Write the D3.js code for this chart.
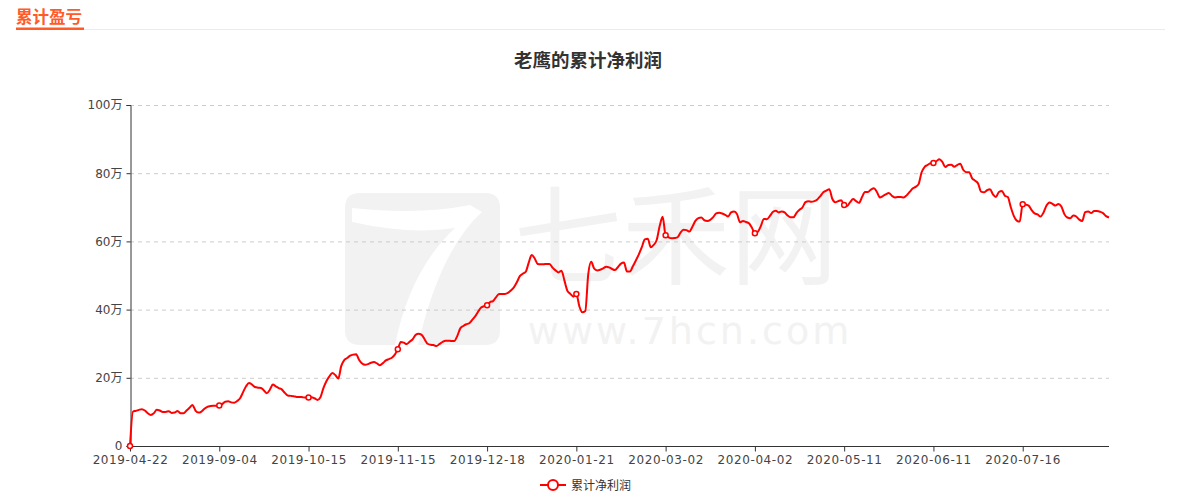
<!DOCTYPE html>
<html><head><meta charset="utf-8">
<script src="https://cdn.jsdelivr.net/npm/d3@7"></script>
<style>
body{margin:0;background:#fff;}
svg text{font-family:"DejaVu Sans","Noto Sans CJK SC",sans-serif;}
</style></head>
<body><svg id="c" width="1180" height="500"></svg>
<script>
const tickLabels = ["2019-04-22","2019-09-04","2019-10-15","2019-11-15","2019-12-18","2020-01-21","2020-03-02","2020-04-02","2020-05-11","2020-06-11","2020-07-16"];
const tickIndices = [0,30,60,90,120,150,180,210,240,270,300];
const yTicks = [0,20,40,60,80,100];
// 累计净利润 (万)
const profit = [
0,10.1,10.3,10.6,10.8,10.4,9.6,9.1,9.6,10.6,
10.4,10.0,10.0,10.2,9.7,9.8,10.3,9.6,9.6,10.4,
11.2,12.0,10.4,9.8,10.1,10.9,11.5,11.7,11.8,11.8,
11.9,12.3,13.0,13.1,12.8,12.7,13.2,14.0,15.8,17.5,
18.5,18.0,17.3,17.1,17.0,16.3,15.5,16.5,18.0,17.5,
17.0,16.6,15.6,14.8,14.7,14.6,14.4,14.4,14.3,14.2,
14.2,14.3,14.0,13.5,14.3,17.0,19.0,20.4,21.4,20.8,
19.8,23.5,25.2,25.8,26.5,26.8,26.9,25.2,24.2,23.8,
24.0,24.4,24.6,24.2,23.7,24.3,25.1,25.5,25.9,26.8,
28.4,30.5,30.3,29.9,30.6,31.3,32.6,32.9,32.6,31.3,
30.0,29.7,29.6,29.3,29.9,30.5,30.9,30.9,30.8,30.8,
32.3,34.5,35.2,35.7,36.0,37.0,38.0,39.4,40.6,41.0,
41.3,42.2,42.5,43.6,44.6,44.6,44.6,44.9,45.6,46.5,
48.0,49.8,50.5,51.1,53.8,56.0,55.0,53.4,53.3,53.3,
53.4,53.4,52.3,51.5,50.9,51.4,48.5,45.5,44.6,43.8,
44.6,41.0,39.2,39.6,50.4,54.0,52.0,51.5,51.7,52.1,
52.6,52.4,51.9,51.6,52.5,53.5,53.8,51.2,51.2,52.7,
54.4,56.2,58.3,60.6,60.8,58.3,59.0,60.4,64.5,67.2,
61.8,61.2,60.9,61.0,61.2,62.6,63.4,63.3,62.9,64.3,
66.0,66.8,67.0,66.2,66.0,66.3,67.1,68.2,68.4,68.2,
67.8,67.3,68.5,68.8,68.0,65.6,66.0,65.7,65.3,64.0,
62.4,62.8,64.5,66.6,66.5,67.4,68.6,69.0,68.5,68.8,
68.5,67.6,67.1,67.1,68.4,69.3,70.0,71.5,71.8,71.6,
71.8,72.3,73.3,74.4,74.9,75.3,72.5,71.5,71.8,72.1,
70.7,70.4,71.5,72.4,71.8,71.3,73.0,74.5,74.5,75.2,
75.6,74.5,72.9,73.3,73.8,74.2,73.4,72.9,73.0,73.0,
72.9,73.5,74.5,75.5,76.0,76.8,80.2,81.8,82.4,82.9,
83.0,83.5,84.1,83.3,81.8,82.4,82.5,81.9,82.4,82.8,
81.0,80.3,80.3,78.5,77.8,77.0,74.6,74.4,75.0,75.3,
73.8,73.0,74.5,74.8,73.4,73.0,70.0,67.5,66.1,65.8,
70.9,70.8,70.5,69.2,68.2,67.9,67.3,68.5,70.5,71.4,
71.0,70.5,71.0,70.2,68.0,67.0,66.8,67.6,67.3,66.4,
66.0,68.6,68.8,68.3,68.9,68.9,68.7,68.3,67.4,67.0
];
const seriesName = "累计净利润";
const chartTitle = "老鹰的累计净利润";
const headerText = "累计盈亏";

const svg = d3.select("#c");
const L=130, R=1109, T=105, B=446;
const idx = d3.range(profit.length);
const x = d3.scaleLinear().domain([0, profit.length-1]).range([L,R]);
const y = d3.scaleLinear().domain([0,100]).range([B,T]);

// header
svg.append("line").attr("x1",16).attr("x2",1165).attr("y1",29.5).attr("y2",29.5).attr("stroke","#ebebeb");
svg.append("text").attr("x",16).attr("y",23).attr("font-size",16.5).attr("font-weight","bold").attr("fill","#ff5a28")
  .style("font-family","'Noto Sans CJK SC'").text(headerText);
svg.append("rect").attr("x",16).attr("y",27.5).attr("width",68).attr("height",2.5).attr("fill","#ff5a28");

// watermark
const wm = svg.append("g").attr("fill","#f2f2f2");
wm.append("path").attr("d","M360,193 H485 Q500,193 500,208 V330 Q500,345 485,345 H360 Q345,345 345,330 V208 Q345,193 360,193 Z");
svg.append("path").attr("fill","#fff").attr("d","M352,208 Q420,215 470,205 L482,212 Q440,250 418,345 L395,345 Q410,270 455,228 Q410,235 352,222 Z");
wm.append("text").attr("x",676).attr("y",276).attr("text-anchor","middle").attr("font-size",108)
  .style("font-family","'Noto Sans CJK SC'").text("七禾网");
wm.append("text").attr("x",690).attr("y",344).attr("text-anchor","middle").attr("font-size",38)
  .attr("letter-spacing",3).style("font-family","'DejaVu Sans'").text("www.7hcn.com");

// title
svg.append("text").attr("x",588).attr("y",67).attr("text-anchor","middle").attr("font-size",18.5)
  .attr("font-weight","bold").attr("fill","#333").style("font-family","'Noto Sans CJK SC'").text(chartTitle);

// grid
svg.append("g").selectAll("line").data(yTicks.filter(d=>d>0)).join("line")
  .attr("x1",L).attr("x2",R).attr("y1",d=>y(d)+0.5).attr("y2",d=>y(d)+0.5)
  .attr("stroke","#ccc").attr("stroke-dasharray","4,4");

// y axis
const yAxis = svg.append("g").attr("transform",`translate(${L+0.5},0)`)
  .call(d3.axisLeft(y).tickValues(yTicks).tickSize(4).tickPadding(4).tickFormat(d=>d===0?"0":d+"万"));
yAxis.select(".domain").attr("stroke","#333");
yAxis.selectAll(".tick line").attr("stroke","#333");
yAxis.selectAll("text").attr("font-size",12).attr("fill","#444").style("font-family","'DejaVu Sans','Noto Sans CJK SC'");

// x axis
const xAxis = svg.append("g").attr("transform",`translate(0,${B+0.5})`)
  .call(d3.axisBottom(x).tickValues(tickIndices).tickSize(5).tickPadding(4).tickFormat((d,i)=>tickLabels[i]));
xAxis.select(".domain").attr("stroke","#333").attr("d",`M${L},0H${R}`);
xAxis.selectAll(".tick line").attr("stroke","#333");
xAxis.selectAll("text").attr("font-size",12).attr("fill","#444").attr("letter-spacing",0.6);

// line
const line = d3.line().x(d=>x(d)).y(d=>y(profit[d])).curve(d3.curveMonotoneX);
svg.append("path").datum(idx).attr("d",line).attr("fill","none").attr("stroke","#ff0000").attr("stroke-width",2);
svg.append("g").selectAll("circle").data(tickIndices).join("circle")
  .attr("cx",d=>x(d)).attr("cy",d=>y(profit[d])).attr("r",2.5)
  .attr("fill","#fff").attr("stroke","#ff0000").attr("stroke-width",1.5);

// legend
const lg = svg.append("g");
lg.append("line").attr("x1",540).attr("x2",566).attr("y1",485).attr("y2",485).attr("stroke","#ff0000").attr("stroke-width",2);
lg.append("circle").attr("cx",553).attr("cy",485).attr("r",5).attr("fill","#fff").attr("stroke","#ff0000").attr("stroke-width",2);
lg.append("text").attr("x",571).attr("y",489.5).attr("font-size",12).attr("fill","#333")
  .style("font-family","'Noto Sans CJK SC'").text(seriesName);
</script></body></html>
